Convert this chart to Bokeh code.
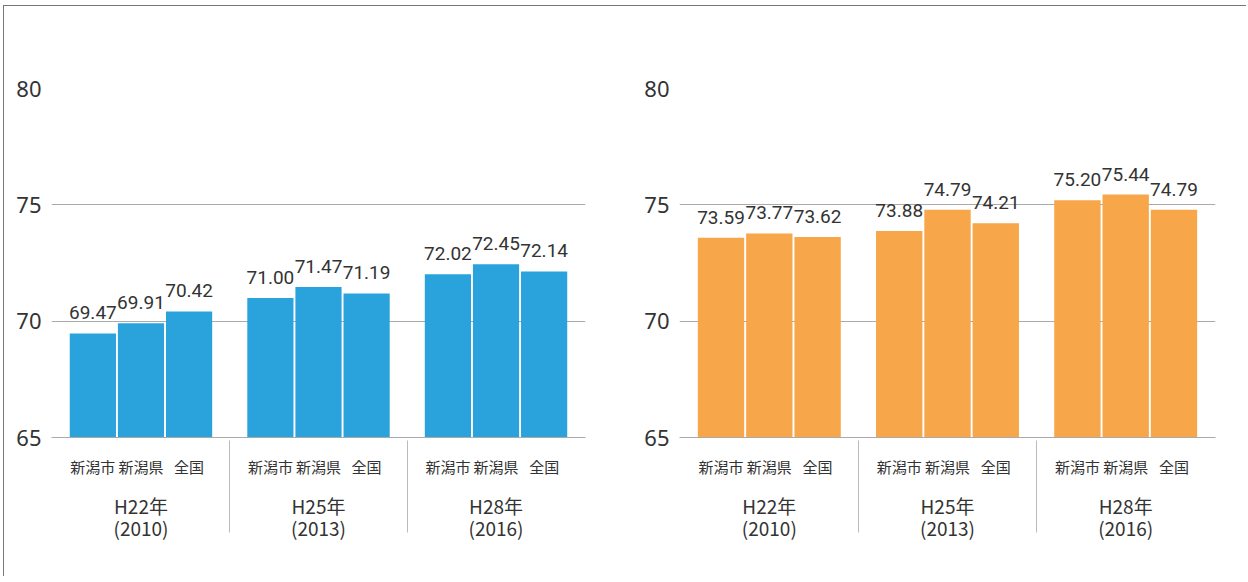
from bokeh.plotting import figure
from bokeh.models import FactorRange, Range1d, FixedTicker, ColumnDataSource, Label
from bokeh.layouts import row
from bokeh.embed import file_html
from bokeh.resources import INLINE
from bokeh.core.properties import value

# ---- data ----
regions = ["新潟市", "新潟県", "全国"]
years = ["H22年\n(2010)", "H25年\n(2013)", "H28年\n(2016)"]
male = [69.47, 69.91, 70.42, 71.00, 71.47, 71.19, 72.02, 72.45, 72.14]
female = [73.59, 73.77, 73.62, 73.88, 74.79, 74.21, 75.20, 75.44, 74.79]
y_ticks = [65, 70, 75, 80]
titles = ["〈男性〉", "〈女性〉"]
unit_label = "(年)"

BLUE = "#2aa3dc"
ORANGE = "#f7a64a"
TXT = "#333333"
FONT = "Noto Sans CJK JP"
NARROW = "Roboto"

factors = [(y, r) for y in years for r in regions]


def make(vals, color, title, width, bl, br, fw):
    xr = FactorRange(*factors, range_padding=0.36, range_padding_units="absolute",
                     group_padding=0.69, factor_padding=0.0)
    p = figure(x_range=xr, y_range=Range1d(65, 80), width=width, height=570,
               output_backend="svg", toolbar_location=None,
               min_border_left=bl, min_border_right=br, min_border_top=82, min_border_bottom=139,
               title=None)
    p.outline_line_color = None
    src = ColumnDataSource(dict(x=factors, top=vals, lab=["%.2f" % v for v in vals]))
    p.vbar(x="x", top="top", bottom=65, width=0.96, source=src, fill_color=color, line_color=None)
    p.text(x="x", y="top", text="lab", source=src, text_align="center", text_baseline="bottom",
           y_offset=-14, text_font=value(NARROW), text_font_size="19px", text_color=TXT)

    # y axis
    p.yaxis.ticker = FixedTicker(ticks=y_ticks)
    p.yaxis.axis_line_color = None
    p.yaxis.major_tick_line_color = None
    p.yaxis.minor_tick_line_color = None
    p.yaxis.major_label_text_font = "Noto Sans"
    p.yaxis.major_label_text_font_size = "22px"
    p.yaxis.major_label_text_color = TXT
    p.yaxis.major_label_standoff = 4
    p.ygrid.ticker = FixedTicker(ticks=y_ticks)
    p.ygrid.grid_line_color = "#aaaaaa"
    p.xgrid.grid_line_color = None

    # x axis
    ax = p.xaxis[0]
    ax.axis_line_color = "#aaaaaa"
    ax.major_tick_line_color = None
    ax.major_label_text_font = FONT
    ax.major_label_text_font_size = "15px"
    ax.major_label_text_color = TXT
    ax.major_label_standoff = 12
    ax.group_text_font = FONT
    ax.group_text_font_size = "19px"
    ax.group_text_font_style = "normal"
    ax.group_text_line_height = 0.85
    ax.group_text_color = TXT
    ax.separator_line_color = "#bbbbbb"
    ax.separator_line_width = 1

    # panel title and unit label, positioned relative to the frame
    p.add_layout(Label(x=-13, y=fw * 0 + 349 + 24, x_units="screen", y_units="screen",
                       text=unit_label, text_align="center", text_baseline="middle",
                       text_font=FONT, text_font_size="16px", text_color=TXT))
    p.add_layout(Label(x=fw / 2, y=349 + 43, x_units="screen", y_units="screen",
                       text=title, text_align="center", text_baseline="middle",
                       text_font=FONT, text_font_size="19px", text_color=TXT))
    return p


p1 = make(male, BLUE, titles[0], 628, 47, 47, 534)
p2 = make(female, ORANGE, titles[1], 614, 47, 31, 536)

lay = row(p1, p2, styles={"border-top": "1px solid #777", "border-left": "1px solid #777",
                          "margin-left": "3px", "margin-top": "5px"})
open("out.html", "w").write(file_html(lay, INLINE))
